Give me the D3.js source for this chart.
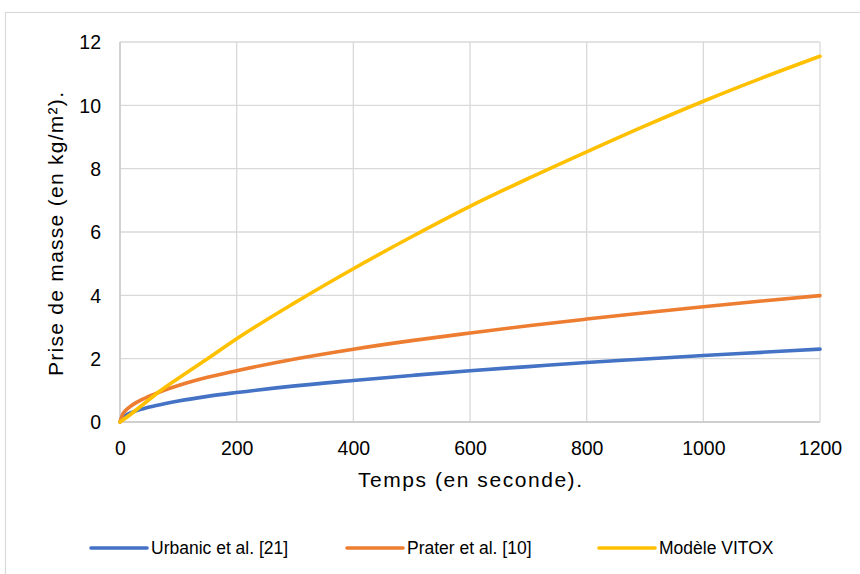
<!DOCTYPE html>
<html>
<head>
<meta charset="utf-8">
<script src="https://cdn.jsdelivr.net/npm/d3@7"></script>
<style>
  html, body { margin: 0; padding: 0; background: #fff; }
  svg { display: block; font-family: "Liberation Sans", Arial, sans-serif; }
</style>
</head>
<body>
<svg id="chart" width="860" height="574"></svg>
<script>
// ---- Data ----
const seriesNames = ["Urbanic et al. [21]", "Prater et al. [10]", "Modèle VITOX"];
const seriesColors = ["#4472C4", "#ED7D31", "#FFC000"];

const urbanicT = [0, 5, 10, 20, 40, 60, 100, 150, 200, 300, 400, 500, 600, 700, 800, 900, 1000, 1100, 1200];
const urbanicY = [0, 0.15, 0.21, 0.30, 0.42, 0.51, 0.66, 0.81, 0.93, 1.14, 1.31, 1.47, 1.62, 1.75, 1.88, 1.99, 2.10, 2.20, 2.30];

const praterT = [0, 5, 10, 20, 40, 60, 100, 150, 200, 300, 400, 500, 600, 700, 800, 900, 1000, 1100, 1200];
const praterY = [0, 0.26, 0.37, 0.52, 0.73, 0.89, 1.15, 1.41, 1.62, 1.99, 2.30, 2.57, 2.81, 3.04, 3.25, 3.45, 3.64, 3.82, 3.99];

const vitoxT = [0, 20, 40, 63, 100, 150, 200, 300, 400, 500, 600, 700, 800, 900, 1000, 1100, 1200];
const vitoxY = [0, 0.27, 0.56, 0.90, 1.38, 2.00, 2.63, 3.77, 4.84, 5.85, 6.81, 7.69, 8.53, 9.35, 10.13, 10.86, 11.55];

const xTicks = [0, 200, 400, 600, 800, 1000, 1200];
const yTicks = [0, 2, 4, 6, 8, 10, 12];
const xTitle = "Temps (en seconde).";
const yTitle = "Prise de masse (en kg/m²).";

// ---- Layout ----
const svg = d3.select("#chart");
const plot = { left: 120, right: 820, top: 42, bottom: 422 };

// chart frame
svg.append("rect")
  .attr("x", 5.5).attr("y", 12.5)
  .attr("width", 900).attr("height", 600)
  .attr("fill", "#fff").attr("stroke", "#D9D9D9").attr("stroke-width", 1.2);

const x = d3.scaleLinear().domain([0, 1200]).range([plot.left, plot.right]);
const y = d3.scaleLinear().domain([0, 12]).range([plot.bottom, plot.top]);

// gridlines
const grid = svg.append("g");
grid.selectAll("line.h").data(yTicks).join("line")
  .attr("x1", plot.left).attr("x2", plot.right)
  .attr("y1", d => y(d)).attr("y2", d => y(d))
  .attr("stroke", "#D9D9D9").attr("stroke-width", 1.3);
grid.selectAll("line.v").data(xTicks).join("line")
  .attr("y1", plot.top).attr("y2", plot.bottom)
  .attr("x1", d => x(d)).attr("x2", d => x(d))
  .attr("stroke", "#D9D9D9").attr("stroke-width", 1.3);
// axis baselines
svg.append("line").attr("x1", plot.left).attr("x2", plot.right)
  .attr("y1", y(0)).attr("y2", y(0)).attr("stroke", "#C8C8C8").attr("stroke-width", 1.3);
svg.append("line").attr("x1", x(0)).attr("x2", x(0))
  .attr("y1", plot.top).attr("y2", plot.bottom).attr("stroke", "#C8C8C8").attr("stroke-width", 1.3);

// axes (labels only)
const xAxis = d3.axisBottom(x).tickValues(xTicks).tickSize(0).tickPadding(0).tickFormat(d3.format("d"));
const gx = svg.append("g").attr("transform", `translate(0,${plot.bottom})`).call(xAxis);
gx.select(".domain").remove();
gx.selectAll("text").attr("dy", null).attr("y", 33)
  .attr("font-size", "19.5px").attr("fill", "#000")
  .attr("font-family", "Liberation Sans, Arial, sans-serif");

const yAxis = d3.axisLeft(y).tickValues(yTicks).tickSize(0).tickPadding(19).tickFormat(d3.format("d"));
const gy = svg.append("g").attr("transform", `translate(${plot.left},0)`).call(yAxis);
gy.select(".domain").remove();
gy.selectAll("text").attr("dy", "0.35em")
  .attr("font-size", "19.5px").attr("fill", "#000")
  .attr("font-family", "Liberation Sans, Arial, sans-serif");

// series
const series = [
  { name: seriesNames[0], color: seriesColors[0], pts: urbanicT.map((t, i) => [t, urbanicY[i]]) },
  { name: seriesNames[1], color: seriesColors[1], pts: praterT.map((t, i) => [t, praterY[i]]) },
  { name: seriesNames[2], color: seriesColors[2], pts: vitoxT.map((t, i) => [t, vitoxY[i]]) }
];
const line = d3.line().x(d => x(d[0])).y(d => y(d[1])).curve(d3.curveMonotoneX);
svg.append("g").selectAll("path").data(series).join("path")
  .attr("d", d => line(d.pts))
  .attr("fill", "none")
  .attr("stroke", d => d.color)
  .attr("stroke-width", 3.6)
  .attr("stroke-linecap", "round")
  .attr("stroke-linejoin", "round");

// axis titles
svg.append("text").text(xTitle)
  .attr("x", (plot.left + plot.right) / 2).attr("y", 487)
  .attr("text-anchor", "middle").attr("font-size", "21px").attr("fill", "#000")
  .attr("textLength", 224).attr("lengthAdjust", "spacing");
svg.append("text").text(yTitle)
  .attr("transform", `translate(63,234) rotate(-90)`)
  .attr("text-anchor", "middle").attr("font-size", "21px").attr("fill", "#000")
  .attr("textLength", 284).attr("lengthAdjust", "spacing");

// legend
const legendLineX = [91, 347, 599];
const legendY = 548;
const lg = svg.append("g");
series.forEach((s, i) => {
  lg.append("line")
    .attr("x1", legendLineX[i]).attr("x2", legendLineX[i] + 56)
    .attr("y1", legendY).attr("y2", legendY)
    .attr("stroke", s.color).attr("stroke-width", 3.6).attr("stroke-linecap", "round");
  lg.append("text").text(s.name)
    .attr("x", legendLineX[i] + 60).attr("y", legendY)
    .attr("dy", "0.35em")
    .attr("font-size", "17.5px").attr("fill", "#000");
});
</script>
</body>
</html>
